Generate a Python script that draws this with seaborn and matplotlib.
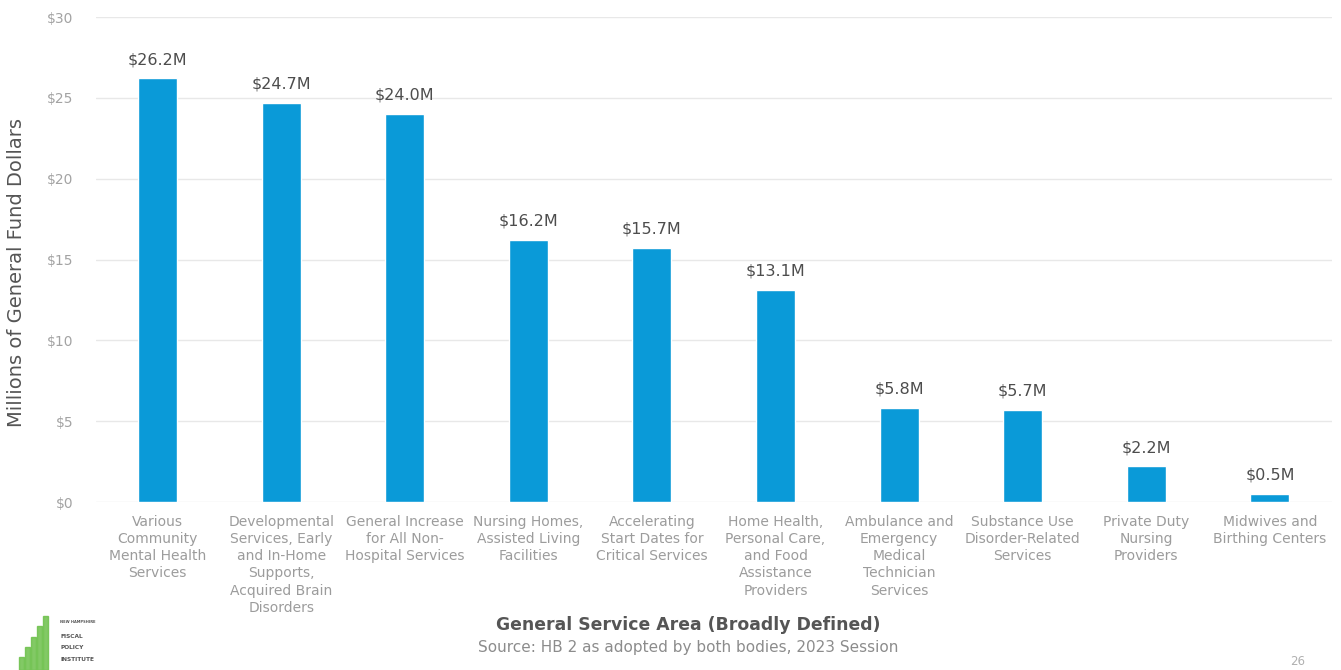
import matplotlib
matplotlib.use("Agg")
import matplotlib.pyplot as plt
import seaborn as sns
import pandas as pd
from matplotlib.patches import Rectangle

categories = [
    "Various\nCommunity\nMental Health\nServices",
    "Developmental\nServices, Early\nand In-Home\nSupports,\nAcquired Brain\nDisorders",
    "General Increase\nfor All Non-\nHospital Services",
    "Nursing Homes,\nAssisted Living\nFacilities",
    "Accelerating\nStart Dates for\nCritical Services",
    "Home Health,\nPersonal Care,\nand Food\nAssistance\nProviders",
    "Ambulance and\nEmergency\nMedical\nTechnician\nServices",
    "Substance Use\nDisorder-Related\nServices",
    "Private Duty\nNursing\nProviders",
    "Midwives and\nBirthing Centers",
]
values = [26.2, 24.7, 24.0, 16.2, 15.7, 13.1, 5.8, 5.7, 2.2, 0.5]
y_ticks = [0, 5, 10, 15, 20, 25, 30]
y_tick_labels = ["$0", "$5", "$10", "$15", "$20", "$25", "$30"]

sns.set_theme(style="white")
plt.rcParams["font.family"] = ["DejaVu Sans"]

df = pd.DataFrame({"area": categories, "amount": values})

fig = plt.figure(figsize=(13.41, 6.70), dpi=100)
ax = fig.add_axes([0.0714, 0.2507, 0.9217, 0.7239])

sns.barplot(data=df, x="area", y="amount", color="#0A9AD8", width=0.315,
            saturation=1, ax=ax, zorder=3)

ax.set_ylim(0, 30)
ax.set_xlim(-0.5, len(categories) - 0.5)
ax.set_yticks(y_ticks)
ax.set_yticklabels(y_tick_labels, color="#a3a3a3", fontsize=10)
ax.yaxis.grid(True, color="#e8e8e8", linewidth=1, zorder=0)
ax.tick_params(axis="y", length=0, pad=16)
ax.tick_params(axis="x", length=0, pad=9)
for lab in ax.get_xticklabels():
    lab.set_fontsize(10)
    lab.set_color("#9c9c9c")
    lab.set_linespacing(1.3)
    lab.set_verticalalignment("top")
for s in ax.spines.values():
    s.set_visible(False)

for i, v in enumerate(values):
    ax.text(i, v + 0.7, f"${v:.1f}M", ha="center", va="bottom",
            fontsize=11.5, color="#4d4d4d")

ax.set_xlabel("")
ax.set_ylabel("Millions of General Fund Dollars", fontsize=14, color="#555555")
ax.yaxis.set_label_coords(-0.0565, 0.474)

fig.text(0.513, 0.067, "General Service Area (Broadly Defined)", ha="center",
         va="center", fontsize=12.4, fontweight="bold", color="#555555")
fig.text(0.513, 0.033, "Source: HB 2 as adopted by both bodies, 2023 Session",
         ha="center", va="center", fontsize=11, color="#8c8c8c")
fig.text(0.968, 0.013, "26", ha="center", va="center", fontsize=8.5, color="#b0b0b0")

# organization logo in the lower-left corner
bar_heights = [0.02, 0.035, 0.05, 0.065, 0.08]
for k, h in enumerate(bar_heights):
    fig.patches.append(Rectangle((0.014 + k * 0.0045, 0.0), 0.0038, h,
                                 transform=fig.transFigure, color="#6cc04a",
                                 alpha=0.85))
fig.text(0.045, 0.072, "NEW HAMPSHIRE", fontsize=2.6, color="#555555",
         fontweight="bold", va="center")
fig.text(0.045, 0.05, "FISCAL", fontsize=4.2, color="#555555",
         fontweight="bold", va="center")
fig.text(0.045, 0.033, "POLICY", fontsize=4.2, color="#555555",
         fontweight="bold", va="center")
fig.text(0.045, 0.016, "INSTITUTE", fontsize=4.2, color="#555555",
         fontweight="bold", va="center")

fig.savefig("out.png", dpi=100)
